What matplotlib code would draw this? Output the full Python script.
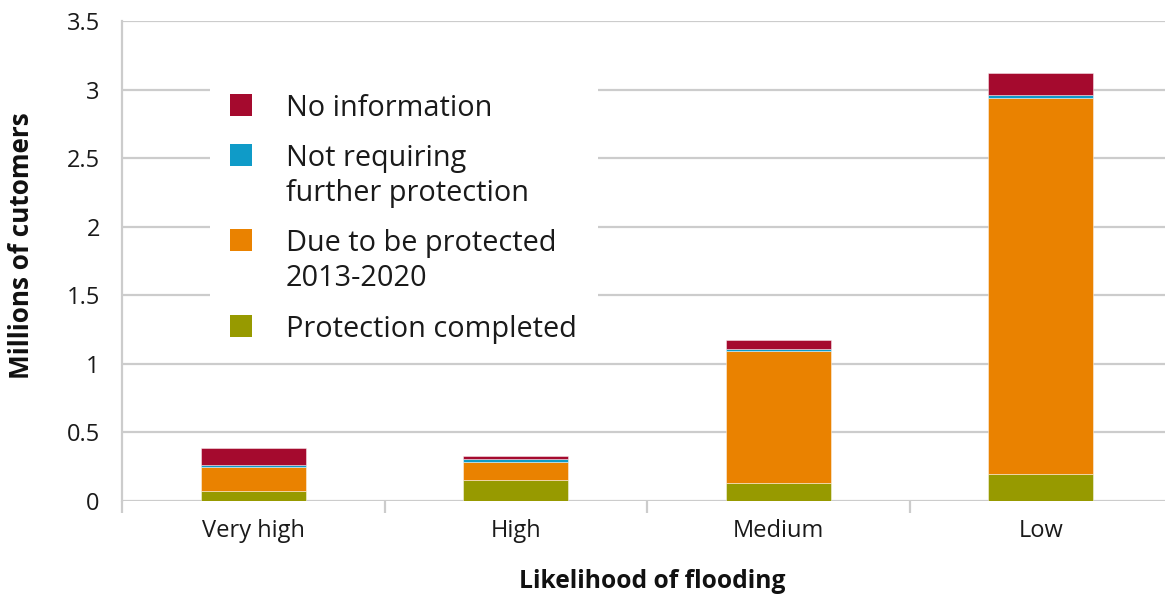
import matplotlib
matplotlib.use("Agg")
import matplotlib.pyplot as plt
from matplotlib.patches import Rectangle
import numpy as np

plt.rcParams['font.family'] = ['Open Sans', 'DejaVu Sans']

CATEGORIES = ['Very high', 'High', 'Medium', 'Low']
# Millions of customers in each group, bottom to top of each stack
PROTECTION_COMPLETED = [0.075, 0.153, 0.131, 0.195]
DUE_2013_2020 = [0.175, 0.134, 0.961, 2.741]
NOT_REQUIRING = [0.012, 0.018, 0.018, 0.024]
NO_INFORMATION = [0.122, 0.024, 0.066, 0.164]

SERIES = [
    ('Protection completed', PROTECTION_COMPLETED, '#979a00'),
    ('Due to be protected\n2013-2020', DUE_2013_2020, '#ea8200'),
    ('Not requiring\nfurther protection', NOT_REQUIRING, '#0f9bc8'),
    ('No information', NO_INFORMATION, '#a50a2e'),
]

W, H = 1165, 596
fig = plt.figure(figsize=(W / 100, H / 100), dpi=100)
ax = fig.add_axes([122 / W, 1 - 501 / H, 1050 / W, (501 - 21) / H])

x = np.arange(len(CATEGORIES))
bottom = np.zeros(len(CATEGORIES))
for label, vals, color in SERIES:
    ax.bar(x, vals, width=0.4, bottom=bottom, color=color,
           edgecolor=(1, 1, 1, 0.45), linewidth=0.7, zorder=3)
    bottom += np.array(vals)

ax.set_xlim(-0.5, 3.5)
ax.set_ylim(0, 3.5)
ax.set_yticks(np.arange(0, 3.51, 0.5))
ax.set_yticklabels(['0', '0.5', '1', '1.5', '2', '2.5', '3', '3.5'])
ax.set_xticks(x)
ax.set_xticklabels(CATEGORIES)
ax.set_xticks([-0.5, 0.5, 1.5, 2.5], minor=True)

grid_color = '#cccccc'
ax.yaxis.grid(True, color=grid_color, linewidth=1.6, zorder=0)
ax.set_axisbelow(True)
for side in ['top', 'right', 'bottom']:
    ax.spines[side].set_visible(False)
ax.spines['left'].set_color(grid_color)
ax.spines['left'].set_linewidth(1.6)
ax.spines['left'].set_bounds(0, 3.5)

text_color = '#1a1a1a'
ax.tick_params(axis='y', length=0, pad=16, labelsize=17, labelcolor=text_color)
ax.tick_params(axis='x', which='major', length=0, pad=13,
               labelsize=17, labelcolor=text_color)
ax.tick_params(axis='x', which='minor', length=8.5, color=grid_color, width=1.6)

fig.text(652 / W, 1 - 581 / H, 'Likelihood of flooding', fontsize=17.7,
         fontweight='bold', ha='center', va='center', color='#111111')
fig.text(22 / W, 1 - 246 / H, 'Millions of cutomers', fontsize=18.8,
         fontweight='bold', ha='center', va='center', rotation=90, color='#111111')


def fig_xy(px, py):
    return px / W, 1 - py / H


# Legend with handles aligned to the first line of each label
x0, y0 = fig_xy(210, 348)
x1, y1 = fig_xy(598, 80)
fig.patches.append(Rectangle((x0, y0), x1 - x0, y1 - y0, transform=fig.transFigure,
                             facecolor='white', edgecolor='none', zorder=4))
legend_rows = [
    ('No information', '#a50a2e', 105),
    ('Not requiring\nfurther protection', '#0f9bc8', 155),
    ('Due to be protected\n2013-2020', '#ea8200', 240),
    ('Protection completed', '#979a00', 326),
]
for text, color, py in legend_rows:
    sx, sy = fig_xy(230, py + 11)
    fig.patches.append(Rectangle((sx, sy), 22 / W, 22 / H, transform=fig.transFigure,
                                 facecolor=color, edgecolor='none', zorder=5))
    tx, ty = fig_xy(286, py - 11)
    fig.text(tx, ty, text, fontsize=20.8, va='top', ha='left', color=text_color,
             linespacing=1.28, zorder=6)

fig.savefig('out.png', dpi=100)
